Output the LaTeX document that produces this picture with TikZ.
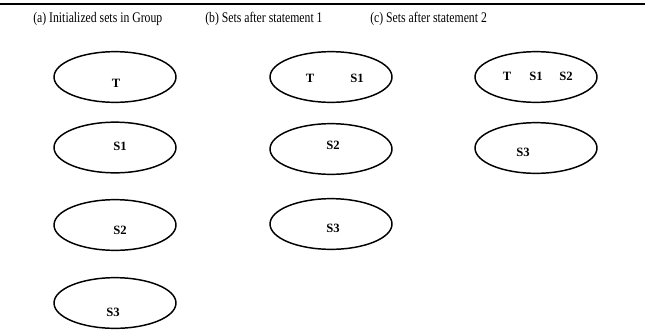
\documentclass[tikz,border=0pt]{standalone}
\usepackage{fontspec}
\setmainfont{Liberation Serif}
\newfontfamily\headfont[FakeStretch=0.8]{Liberation Serif}
\usetikzlibrary{shapes.geometric}

\tikzset{
  setbox/.style={draw, ellipse, line width=1.1pt, minimum width=91.5pt, minimum height=38pt, inner sep=0pt},
  setlbl/.style={inner sep=0pt, font=\fontsize{9.5}{10}\selectfont\bfseries},
  headlbl/.style={anchor=west, inner sep=0pt, font=\headfont\fontsize{11}{13}\selectfont}
}

\begin{document}
\begin{tikzpicture}[x=0.75pt,y=-0.75pt]
\useasboundingbox (0,0) rectangle (645,329);
\coordinate (rulel) at (0,4);
\coordinate (ruler) at (645,4);
\draw[line width=1.4pt] (rulel) -- (ruler);
% headings
\node[headlbl] (heada) at (33,19) {(a) Initialized sets in Group};
\node[headlbl] (headb) at (205,19) {(b) Sets after statement 1};
\node[headlbl] (headc) at (370,19) {(c) Sets after statement 2};
% (a) initial sets
\node[setbox] (aT) at (115,77) {};
\node[setlbl] (aTt) at (116,83) {T};
\node[setbox] (aS1) at (115,147.5) {};
\node[setlbl] (aS1t) at (120,146) {S1};
\node[setbox] (aS2) at (115,225) {};
\node[setlbl] (aS2t) at (120,230) {S2};
\node[setbox] (aS3) at (115,303) {};
\node[setlbl] (aS3t) at (113,312) {S3};
% (b) after statement 1
\node[setbox] (bTS1) at (331,77) {};
\node[setlbl] (bTt) at (310,78) {T};
\node[setlbl] (bS1t) at (357,78) {S1};
\node[setbox] (bS2) at (331,149) {};
\node[setlbl] (bS2t) at (333,145) {S2};
\node[setbox] (bS3) at (331,224) {};
\node[setlbl] (bS3t) at (333,228) {S3};
% (c) after statement 2
\node[setbox] (cTS1S2) at (536,77) {};
\node[setlbl] (cTt) at (507,76) {T};
\node[setlbl] (cS1t) at (536,76) {S1};
\node[setlbl] (cS2t) at (566,76) {S2};
\node[setbox] (cS3) at (536,148) {};
\node[setlbl] (cS3t) at (523,152) {S3};
\end{tikzpicture}
\end{document}
